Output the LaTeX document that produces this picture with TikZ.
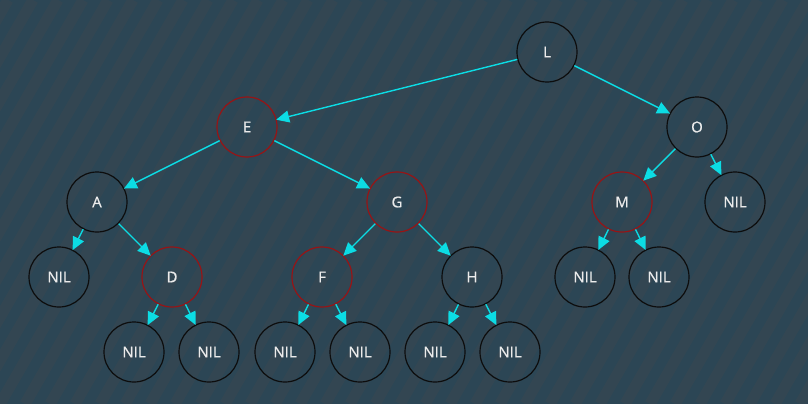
\documentclass[tikz,border=0pt]{standalone}
\usepackage{fontspec}
\setmainfont{Open Sans}
\newfontfamily\nodefont[FakeBold=0.7]{Open Sans}
\usetikzlibrary{arrows.meta}
\definecolor{bgblue}{RGB}{44,70,85}
\definecolor{bgstripe}{RGB}{80,72,74}
\definecolor{rbred}{RGB}{150,20,22}
\definecolor{linkcyan}{RGB}{12,220,228}
\tikzset{
    rbnode/.style={circle, draw=black!95, line width=1.2pt, minimum size=60pt,
        inner sep=0pt, text=white!92!black, font=\nodefont\fontsize{15}{15}\selectfont},
    rednode/.style={rbnode, draw=rbred},
    link/.style={draw=linkcyan, line width=1.4pt,
        -{Triangle[length=13pt, width=12pt]}, shorten >=-0.5pt}
}
\begin{document}
\begin{tikzpicture}[x=1pt, y=-1pt]
    % background
    \useasboundingbox (0,0) rectangle (808,404);
    \fill[bgblue] (0,0) rectangle (808,404);
    \begin{scope}
        \clip (0,0) rectangle (808,404);
        \foreach \x in {-300,-275,...,1100} {
            \draw[bgstripe, line width=11pt, opacity=0.22] (\x,404) -- (\x+233,0);
        }
    \end{scope}

    % nodes, one row per level
    \node[rbnode]  (l) at (547,52) {L};

    \node[rednode] (e) at (247,127) {E};
    \node[rbnode]  (o) at (697,127) {O};

    \node[rbnode]  (a) at (97,202) {A};
    \node[rednode] (g) at (397,202) {G};
    \node[rednode] (m) at (622,202) {M};
    \node[rbnode]  (nilo) at (735,202) {NIL};

    \node[rbnode]  (nila) at (59,277) {NIL};
    \node[rednode] (d) at (172,277) {D};
    \node[rednode] (f) at (322,277) {F};
    \node[rbnode]  (h) at (472,277) {H};
    \node[rbnode]  (nilm1) at (585,277) {NIL};
    \node[rbnode]  (nilm2) at (659,277) {NIL};

    \node[rbnode]  (nild1) at (134,352) {NIL};
    \node[rbnode]  (nild2) at (209,352) {NIL};
    \node[rbnode]  (nilf1) at (285,352) {NIL};
    \node[rbnode]  (nilf2) at (360,352) {NIL};
    \node[rbnode]  (nilh1) at (435,352) {NIL};
    \node[rbnode]  (nilh2) at (510,352) {NIL};

    % links
    \foreach \p/\c in {l/e, l/o, e/a, e/g, o/m, o/nilo, a/nila, a/d,
                       g/f, g/h, m/nilm1, m/nilm2, d/nild1, d/nild2,
                       f/nilf1, f/nilf2, h/nilh1, h/nilh2} {
        \draw[link] (\p) -- (\c);
    }
\end{tikzpicture}
\end{document}
